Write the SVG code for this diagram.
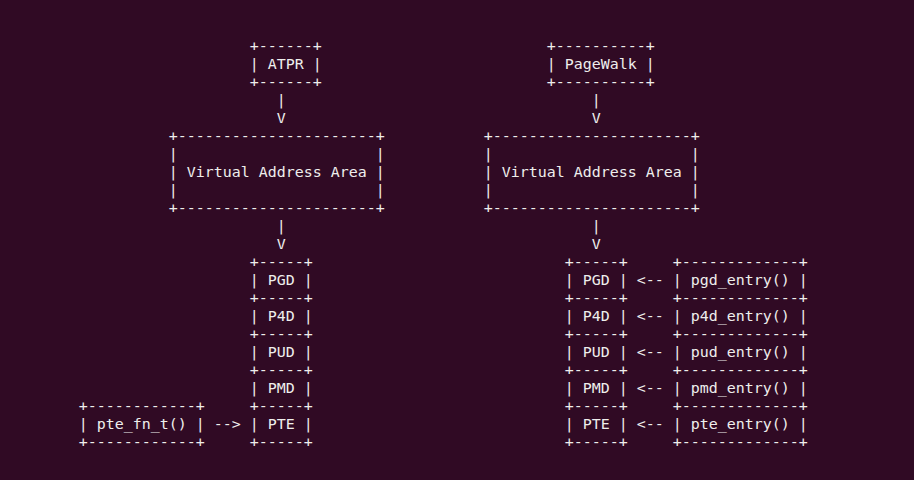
<svg xmlns="http://www.w3.org/2000/svg" width="914" height="480" viewBox="0 0 914 480" xml:space="preserve">
<style>
text{font-family:"DejaVu Sans Mono","Liberation Mono",monospace;font-size:14.95px;fill:#EEEEEC;white-space:pre}
</style>
<rect width="914" height="480" fill="#300A24"/>
<g id="atpr"><text x="249.8" y="51">+------+</text><text x="249.8" y="69">| ATPR |</text><text x="249.8" y="87">+------+</text></g>
<g id="pagewalk"><text x="546.8" y="51">+----------+</text><text x="546.8" y="69">| PageWalk |</text><text x="546.8" y="87">+----------+</text></g>
<g id="vaa-left"><text x="168.8" y="141">+----------------------+</text><text x="168.8" y="159">|                      |</text><text x="168.8" y="177">| Virtual Address Area |</text><text x="168.8" y="195">|                      |</text><text x="168.8" y="213">+----------------------+</text></g>
<g id="vaa-right"><text x="483.8" y="141">+----------------------+</text><text x="483.8" y="159">|                      |</text><text x="483.8" y="177">| Virtual Address Area |</text><text x="483.8" y="195">|                      |</text><text x="483.8" y="213">+----------------------+</text></g>
<g id="pgd-left"><text x="249.8" y="267">+-----+</text><text x="249.8" y="285">| PGD |</text></g>
<g id="p4d-left"><text x="249.8" y="303">+-----+</text><text x="249.8" y="321">| P4D |</text></g>
<g id="pud-left"><text x="249.8" y="339">+-----+</text><text x="249.8" y="357">| PUD |</text></g>
<g id="pmd-left"><text x="249.8" y="375">+-----+</text><text x="249.8" y="393">| PMD |</text></g>
<g id="pte-left"><text x="249.8" y="411">+-----+</text><text x="249.8" y="429">| PTE |</text><text x="249.8" y="447">+-----+</text></g>
<g id="pte_fn_t"><text x="78.8" y="411">+------------+</text><text x="78.8" y="429">| pte_fn_t() |</text><text x="78.8" y="447">+------------+</text></g>
<g id="pgd-right"><text x="564.8" y="267">+-----+</text><text x="564.8" y="285">| PGD |</text></g>
<g id="p4d-right"><text x="564.8" y="303">+-----+</text><text x="564.8" y="321">| P4D |</text></g>
<g id="pud-right"><text x="564.8" y="339">+-----+</text><text x="564.8" y="357">| PUD |</text></g>
<g id="pmd-right"><text x="564.8" y="375">+-----+</text><text x="564.8" y="393">| PMD |</text></g>
<g id="pte-right"><text x="564.8" y="411">+-----+</text><text x="564.8" y="429">| PTE |</text><text x="564.8" y="447">+-----+</text></g>
<g id="pgd_entry"><text x="672.8" y="267">+-------------+</text><text x="672.8" y="285">| pgd_entry() |</text></g>
<g id="p4d_entry"><text x="672.8" y="303">+-------------+</text><text x="672.8" y="321">| p4d_entry() |</text></g>
<g id="pud_entry"><text x="672.8" y="339">+-------------+</text><text x="672.8" y="357">| pud_entry() |</text></g>
<g id="pmd_entry"><text x="672.8" y="375">+-------------+</text><text x="672.8" y="393">| pmd_entry() |</text></g>
<g id="pte_entry"><text x="672.8" y="411">+-------------+</text><text x="672.8" y="429">| pte_entry() |</text><text x="672.8" y="447">+-------------+</text></g>
<g id="connectors">
<text x="276.8" y="105">|</text><text x="276.8" y="123">V</text>
<text x="591.8" y="105">|</text><text x="591.8" y="123">V</text>
<text x="276.8" y="231">|</text><text x="276.8" y="249">V</text>
<text x="591.8" y="231">|</text><text x="591.8" y="249">V</text>
<text x="213.8" y="429">--&gt;</text>
<text x="636.8" y="285">&lt;--</text>
<text x="636.8" y="321">&lt;--</text>
<text x="636.8" y="357">&lt;--</text>
<text x="636.8" y="393">&lt;--</text>
<text x="636.8" y="429">&lt;--</text>
</g>
</svg>
